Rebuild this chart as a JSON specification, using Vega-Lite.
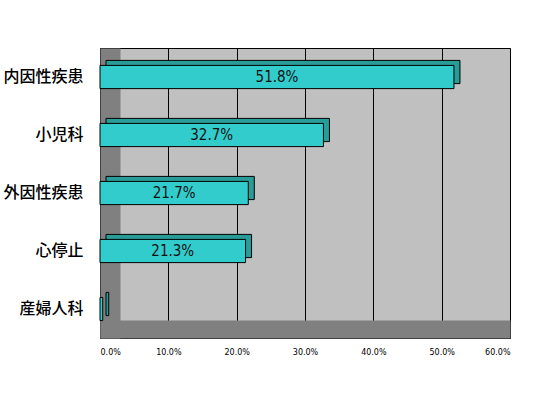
{
  "$schema": "https://vega.github.io/schema/vega-lite/v6.json",
  "width": 410,
  "height": 290,
  "autosize": "none",
  "padding": {"left": 100, "top": 48, "right": 39, "bottom": 58},
  "background": "white",
  "config": {"view": {"fill": "#C0C0C0", "stroke": "black", "strokeWidth": 1}},
  "data": {"values": [
    {"category": "内因性疾患", "value": 0.518},
    {"category": "小児科", "value": 0.327},
    {"category": "外因性疾患", "value": 0.217},
    {"category": "心停止", "value": 0.213},
    {"category": "産婦人科", "value": 0.004}
  ]},
  "encoding": {
    "y": {
      "field": "category", "type": "nominal", "sort": null,
      "scale": {"paddingInner": 0.6, "paddingOuter": 0.3},
      "axis": {
        "title": null, "ticks": false, "labelPadding": 27,
        "labelFont": "Noto Sans CJK JP", "labelFontSize": 16, "labelFontWeight": 500, "labelColor": "black",
        "domainColor": "#808080", "domainWidth": 20, "offset": -10, "zindex": 0, "grid": false
      }
    }
  },
  "layer": [
    {
      "mark": {"type": "bar", "fill": "#2A9C98", "stroke": "black", "strokeWidth": 1, "xOffset": 6, "yOffset": -5},
      "encoding": {
        "x": {
          "field": "value", "type": "quantitative",
          "scale": {"domain": [0, 0.6]},
          "axis": {
            "title": null, "values": [0, 0.1, 0.2, 0.3, 0.4, 0.5, 0.6], "format": ".1%",
            "labelFontSize": 8, "labelFont": "DejaVu Sans", "labelColor": "black",
            "ticks": false, "labelPadding": 19, "offset": -9,
            "domainColor": "#808080", "domainWidth": 18,
            "grid": true, "gridColor": "black", "gridWidth": 1, "gridOpacity": 1, "zindex": 0
          }
        }
      }
    },
    {
      "mark": {"type": "bar", "fill": "#33CCCC", "stroke": "black", "strokeWidth": 1},
      "encoding": {"x": {"field": "value", "type": "quantitative"}}
    },
    {
      "transform": [{"filter": "datum.value > 0.01"}, {"calculate": "datum.value / 2", "as": "mid"}],
      "mark": {"type": "text", "font": "'DejaVu Sans Condensed', 'Liberation Sans', sans-serif", "fontSize": 15, "color": "#111", "align": "center", "baseline": "middle"},
      "encoding": {
        "x": {"field": "mid", "type": "quantitative"},
        "text": {"field": "value", "type": "quantitative", "format": ".1%"}
      }
    }
  ]
}
